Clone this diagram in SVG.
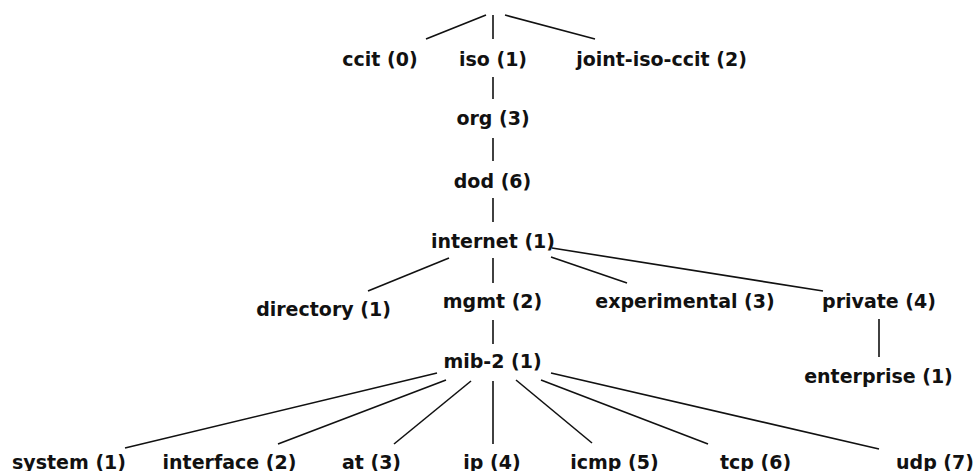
<svg xmlns="http://www.w3.org/2000/svg" width="975" height="471" viewBox="0 0 975 471">
<style>
text{font-family:"DejaVu Sans",sans-serif;font-weight:bold;font-size:19px;fill:#111;text-anchor:middle}
.c line{stroke:#111;stroke-width:1.6}
</style>
<rect width="975" height="471" fill="#fff"/>
<g class="c" id="connectors">
<line x1="486" y1="15" x2="426" y2="39"/>
<line x1="493" y1="15" x2="493" y2="39"/>
<line x1="505" y1="15" x2="595" y2="39"/>
<line x1="493" y1="77" x2="493" y2="99"/>
<line x1="493" y1="138" x2="493" y2="161"/>
<line x1="493" y1="198" x2="493" y2="222"/>
<line x1="449" y1="258" x2="368" y2="291"/>
<line x1="493" y1="258" x2="493" y2="283"/>
<line x1="551" y1="257" x2="627" y2="283"/>
<line x1="552" y1="248" x2="823" y2="291"/>
<line x1="879" y1="319" x2="879" y2="357"/>
<line x1="493" y1="320" x2="493" y2="344"/>
<line x1="437" y1="373" x2="125" y2="448"/>
<line x1="446" y1="380" x2="278" y2="444"/>
<line x1="471" y1="381" x2="394" y2="444"/>
<line x1="493" y1="381" x2="493" y2="444"/>
<line x1="516" y1="380" x2="592" y2="443"/>
<line x1="541" y1="380" x2="708" y2="444"/>
<line x1="551" y1="373" x2="879" y2="449"/>
</g>
<g id="ccit"><text x="380" y="66">ccit (0)</text></g>
<g id="iso"><text x="493" y="66">iso (1)</text></g>
<g id="joint"><text x="661.5" y="66">joint-iso-ccit (2)</text></g>
<g id="org"><text x="493" y="125">org (3)</text></g>
<g id="dod"><text x="492.5" y="187.5">dod (6)</text></g>
<g id="internet"><text x="493" y="247.5">internet (1)</text></g>
<g id="directory"><text x="323.5" y="316">directory (1)</text></g>
<g id="mgmt"><text x="492.5" y="308">mgmt (2)</text></g>
<g id="experimental"><text x="685" y="308">experimental (3)</text></g>
<g id="private"><text x="879" y="308">private (4)</text></g>
<g id="enterprise"><text x="878.5" y="383">enterprise (1)</text></g>
<g id="mib2"><text x="492.5" y="368">mib-2 (1)</text></g>
<g id="system"><text x="69" y="468.5">system (1)</text></g>
<g id="interface"><text x="229.5" y="468.5">interface (2)</text></g>
<g id="at"><text x="371.5" y="468.5">at (3)</text></g>
<g id="ip"><text x="492" y="468.5">ip (4)</text></g>
<g id="icmp"><text x="614.5" y="468.5">icmp (5)</text></g>
<g id="tcp"><text x="755.5" y="468.5">tcp (6)</text></g>
<g id="udp"><text x="935" y="468.5">udp (7)</text></g>
</svg>
